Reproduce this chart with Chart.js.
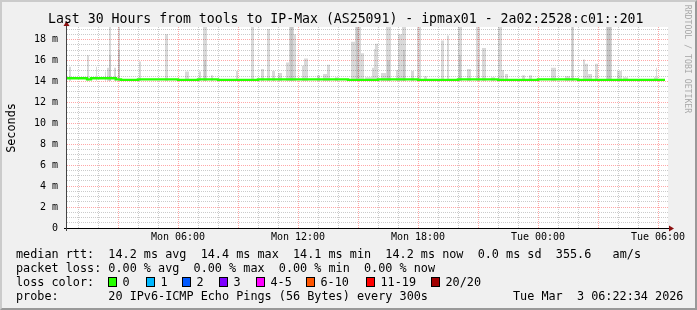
<!DOCTYPE html>
<html><head><meta charset="utf-8">
<script src="https://cdn.jsdelivr.net/npm/chart.js@4.4.0/dist/chart.umd.min.js"></script>
<style>
html,body{margin:0;padding:0;background:#f0f0f0;}
#wrap{position:relative;width:697px;height:310px;overflow:hidden;background:#f0f0f0;font-family:"DejaVu Sans Mono",monospace;color:#000;}
#c{position:absolute;left:0;top:0;}
.t{position:absolute;white-space:pre;}
#title{left:48px;top:11px;font-size:13.2px;line-height:16px;}
#legend{left:16px;top:247px;font-size:11.8px;line-height:14px;}
.lab{font-size:11.8px;line-height:14px;top:275px;}
.box{position:absolute;top:277px;width:7px;height:8px;border:1px solid #000;}
#ylab{left:-19.5px;top:120.5px;width:60px;height:14px;line-height:14px;font-size:11.8px;text-align:center;transform:rotate(-90deg);}
#rrd{left:628px;top:54px;width:120px;height:10px;line-height:10px;font-size:8.2px;text-align:center;color:#a8a8a8;transform:rotate(90deg);}
#frame{position:absolute;left:0;top:0;width:697px;height:310px;box-sizing:border-box;border-style:solid;border-width:2px;border-color:#cbcbcb #999 #999 #cbcbcb;pointer-events:none;}
</style></head>
<body>
<div id="wrap">
<canvas id="c" width="697" height="310"></canvas>
<div class="t" id="title">Last 30 Hours from tools to IP-Max (AS25091) - ipmax01 - 2a02:2528:c01::201</div>
<div class="t" id="ylab">Seconds</div>
<div class="t" id="rrd">RRDTOOL / TOBI OETIKER</div>
<div class="t" id="legend">median rtt:  14.2 ms avg  14.4 ms max  14.1 ms min  14.2 ms now  0.0 ms sd  355.6   am/s
packet loss: 0.00 % avg  0.00 % max  0.00 % min  0.00 % now
loss color:
probe:       20 IPv6-ICMP Echo Pings (56 Bytes) every 300s</div>
<div class="t lab" style="left:513px;top:289px;">Tue Mar  3 06:22:34 2026</div>
<div id="lossbox"></div>
<div id="frame"></div>
</div>
<script>
// ---- data (hours since Mon 00:00, values in ms) ----
const xMin = 0.45, xMax = 30.5;
const tickHours = [6, 12, 18, 24, 30];
const tickLabels = ['Mon 06:00', 'Mon 12:00', 'Mon 18:00', 'Tue 00:00', 'Tue 06:00'];
const yMax = 19.2;

const medianTimes  = [0.45, 1.45, 1.65, 2.9, 3.15, 4.0, 6.0, 7.0, 8.0, 10.0, 12.0, 14.5, 16.0, 18.0, 20.0, 22.0, 24.0, 26.0, 28.0, 29.0, 30.35];
const medianValues = [14.2, 14.3, 14.2, 14.3, 14.2, 14.15, 14.2, 14.15, 14.2, 14.15, 14.2, 14.2, 14.15, 14.2, 14.15, 14.2, 14.15, 14.2, 14.15, 14.15, 14.15];

const smokeBase = 14.05;
const smokeStart = [0.55,1.45,1.90,2.35,2.45,2.55,2.80,3.00,4.05,5.35,6.35,7.00,7.05,7.25,7.65,8.90,9.65,10.15,10.45,10.70,11.00,11.40,11.55,11.80,12.20,12.30,12.95,13.25,13.45,13.85,14.65,14.85,15.15,15.35,15.70,15.80,15.85,16.15,16.40,16.90,17.00,17.20,17.65,17.95,18.30,19.15,19.45,20.00,20.45,20.90,21.20,21.65,22.00,22.20,22.35,23.20,23.55,24.65,25.35,25.65,26.25,26.35,26.50,26.85,27.40,27.95,28.25,29.80,29.90,29.95];
const smokeEnd   = [0.65,1.55,1.95,2.40,2.55,2.65,2.90,3.10,4.15,5.50,6.55,7.05,7.15,7.45,7.75,9.00,9.80,10.30,10.60,10.85,11.20,11.55,11.80,11.90,12.30,12.50,13.10,13.45,13.60,14.00,14.85,15.15,15.30,15.70,15.80,15.85,16.00,16.40,16.65,17.00,17.20,17.40,17.80,18.15,18.45,19.30,19.55,20.20,20.65,21.10,21.40,21.85,22.20,22.30,22.50,23.35,23.70,24.90,25.60,25.80,26.35,26.50,26.70,27.00,27.70,28.20,28.50,29.90,29.95,30.00];
const smokeTop   = [15.4,16.5,15.4,14.95,15.3,19.6,15.3,19.6,15.9,18.5,14.95,14.7,14.95,19.6,14.6,15.0,19.6,15.2,19.0,15.0,14.8,15.8,19.6,18.5,15.5,16.2,14.6,14.7,15.6,14.4,17.8,19.6,16.7,14.4,15.3,17.1,17.6,14.8,19.6,15.1,18.5,19.6,15.0,19.6,14.5,17.9,18.4,19.6,15.2,19.6,17.2,14.4,19.6,15.1,14.7,14.6,14.6,15.3,14.5,19.6,16.1,15.7,14.7,15.7,19.6,15.0,14.4,14.4,15.3,14.4];

const coreStart = [2.55, 3.00, 7.30, 11.60, 14.90, 16.45, 17.25, 20.05, 21.00, 25.70, 27.45];
const coreEnd   = [2.65, 3.10, 7.40, 11.75, 15.05, 16.60, 17.35, 20.15, 21.05, 25.75, 27.65];
const coreTop   = [16.5, 17.0, 16.0, 19.6, 19.6, 16.0, 17.0, 16.5, 16.0, 19.6, 19.6];

const lossLabels = ['0', '1', '2', '3', '4-5', '6-10', '11-19', '20/20'];
const lossColors = ['#26ff00', '#00b8ff', '#0059ff', '#7e00ff', '#ff00ff', '#ff5500', '#ff0000', '#a10000'];
const lossBoxX = [108, 146, 182, 219, 256, 306, 366, 431];

// ---- legend boxes ----
const lb = document.getElementById('lossbox');
lossLabels.forEach((l, i) => {
  const b = document.createElement('div');
  b.className = 'box'; b.style.left = lossBoxX[i] + 'px'; b.style.background = lossColors[i];
  lb.appendChild(b);
  const t = document.createElement('div');
  t.className = 't lab'; t.style.left = (lossBoxX[i] + 14.5) + 'px'; t.textContent = l;
  lb.appendChild(t);
});

function band(starts, ends, tops, base) {
  const pts = [{x: xMin, y: base}];
  for (let i = 0; i < starts.length; i++) {
    pts.push({x: starts[i], y: base}, {x: starts[i], y: tops[i]}, {x: ends[i], y: tops[i]}, {x: ends[i], y: base});
  }
  pts.push({x: xMax, y: base});
  return pts;
}

const MAJOR = 'rgba(255,60,60,0.45)';
const MINOR = 'rgba(140,140,140,0.45)';
const CLEAR = 'rgba(0,0,0,0)';

const bgPlugin = {
  id: 'bg',
  beforeDraw(chart) {
    const {ctx, chartArea: a} = chart;
    ctx.save(); ctx.fillStyle = '#ffffff';
    ctx.fillRect(a.left, a.top, a.right - a.left, a.bottom - a.top);
    ctx.restore();
  }
};
const axisPlugin = {
  id: 'axes',
  afterDraw(chart) {
    const {ctx, chartArea: a} = chart;
    ctx.save();
    ctx.strokeStyle = '#000'; ctx.lineWidth = 1;
    ctx.beginPath(); ctx.moveTo(a.left - 3, a.bottom + 0.5); ctx.lineTo(a.right + 2, a.bottom + 0.5); ctx.stroke();
    ctx.strokeStyle = '#444';
    ctx.beginPath(); ctx.moveTo(a.left - 0.5, a.bottom + 3); ctx.lineTo(a.left - 0.5, a.top - 2); ctx.stroke();
    ctx.fillStyle = '#8b1010';
    ctx.beginPath(); ctx.moveTo(a.left - 0.5, a.top - 6); ctx.lineTo(a.left - 3.5, a.top - 1); ctx.lineTo(a.left + 2.5, a.top - 1); ctx.closePath(); ctx.fill();
    ctx.beginPath(); ctx.moveTo(a.right + 6, a.bottom + 0.5); ctx.lineTo(a.right + 1, a.bottom - 2.5); ctx.lineTo(a.right + 1, a.bottom + 3.5); ctx.closePath(); ctx.fill();
    ctx.restore();
  }
};

new Chart(document.getElementById('c'), {
  type: 'line',
  data: {
    datasets: [
      { label: 'median', data: medianTimes.map((t, i) => ({x: t, y: medianValues[i]})),
        borderColor: '#26ff00', borderWidth: 2.4, pointRadius: 0, stepped: 'after', fill: false, order: 0 },
      { label: 'core', data: band(coreStart, coreEnd, coreTop, smokeBase),
        borderWidth: 0, borderColor: CLEAR, backgroundColor: 'rgba(0,0,0,0.09)', pointRadius: 0, tension: 0, fill: {value: smokeBase}, order: 1 },
      { label: 'smoke', data: band(smokeStart, smokeEnd, smokeTop, smokeBase),
        borderWidth: 0, borderColor: CLEAR, backgroundColor: 'rgba(0,0,0,0.15)', pointRadius: 0, tension: 0, fill: {value: smokeBase}, order: 2 }
    ]
  },
  options: {
    responsive: false, animation: false, devicePixelRatio: 1,
    layout: {padding: {left: 0, top: 27, right: 29, bottom: 0}},
    plugins: {legend: {display: false}, tooltip: {enabled: false}, title: {display: false}},
    scales: {
      x: {
        type: 'linear', min: xMin, max: xMax,
        afterFit: s => { s.height = 82; },
        ticks: {
          stepSize: 1, autoSkip: false, includeBounds: false, maxRotation: 0, minRotation: 0, padding: 3.5,
          font: {family: 'DejaVu Sans Mono', size: 10}, color: '#000',
          callback: v => { const i = tickHours.indexOf(Math.round(v * 100) / 100); return i >= 0 ? tickLabels[i] : ''; }
        },
        grid: {
          drawTicks: false, lineWidth: 1,
          color: c => { const v = c.tick.value; if (Math.abs(v - Math.round(v)) > 1e-6) return CLEAR; return Math.round(v) % 3 === 0 ? MAJOR : MINOR; }
        },
        border: {display: false, dash: [1, 1]}
      },
      y: {
        min: 0, max: yMax,
        afterFit: s => { s.width = 67; },
        ticks: {
          stepSize: 0.5, autoSkip: false, includeBounds: false, padding: 9,
          font: {family: 'DejaVu Sans Mono', size: 10}, color: '#000',
          callback: v => { const r = Math.round(v * 10) / 10; if (r % 2 !== 0 || r > 18) return ''; return r === 0 ? '0' : r + ' m'; }
        },
        grid: {
          drawTicks: false, lineWidth: 1,
          color: c => { const v = Math.round(c.tick.value * 10) / 10; if (v === 0 || v > 19.01 || Math.abs(v * 2 - Math.round(v * 2)) > 1e-6) return CLEAR; return v % 2 === 0 ? MAJOR : MINOR; }
        },
        border: {display: false, dash: [1, 1]}
      }
    }
  },
  plugins: [bgPlugin, axisPlugin]
});
</script>
</body></html>
